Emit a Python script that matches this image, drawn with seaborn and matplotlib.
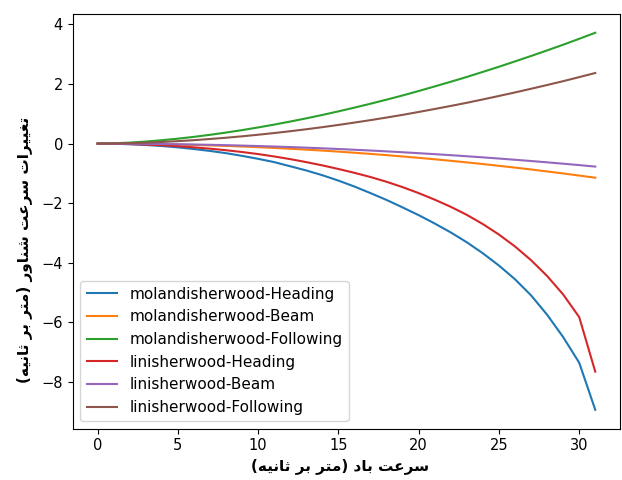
import numpy as np
import pandas as pd
import matplotlib
matplotlib.use('Agg')
import matplotlib.pyplot as plt
import seaborn as sns

# wind speed (m/s)
wind = list(range(0, 32))

mol_heading = [0, -0.005, -0.02, -0.045, -0.08, -0.125, -0.18, -0.245, -0.32, -0.41,
               -0.51, -0.62, -0.76, -0.90, -1.06, -1.24, -1.44, -1.66, -1.89, -2.14,
               -2.40, -2.68, -2.98, -3.31, -3.68, -4.09, -4.55, -5.09, -5.74, -6.49,
               -7.35, -8.93]
mol_beam = [0, -0.001, -0.005, -0.011, -0.019, -0.03, -0.043, -0.058, -0.076, -0.096,
            -0.119, -0.144, -0.171, -0.201, -0.233, -0.268, -0.305, -0.344, -0.386, -0.43,
            -0.476, -0.525, -0.576, -0.63, -0.685, -0.744, -0.804, -0.867, -0.933, -1.0,
            -1.071, -1.144]
mol_following = [0, 0.011, 0.035, 0.07, 0.115, 0.167, 0.228, 0.296, 0.372, 0.454,
                 0.544, 0.639, 0.742, 0.849, 0.963, 1.083, 1.209, 1.34, 1.476, 1.617,
                 1.766, 1.92, 2.077, 2.238, 2.408, 2.58, 2.759, 2.941, 3.128, 3.319,
                 3.518, 3.72]
lin_heading = [0, -0.004, -0.014, -0.031, -0.055, -0.086, -0.124, -0.169, -0.221, -0.281,
               -0.35, -0.43, -0.52, -0.62, -0.73, -0.85, -0.98, -1.12, -1.28, -1.46,
               -1.66, -1.88, -2.12, -2.39, -2.70, -3.05, -3.45, -3.91, -4.44, -5.06,
               -5.82, -7.65]
lin_beam = [0, -0.001, -0.003, -0.007, -0.013, -0.02, -0.029, -0.039, -0.051, -0.065,
            -0.08, -0.097, -0.115, -0.135, -0.157, -0.18, -0.205, -0.231, -0.259, -0.289,
            -0.32, -0.353, -0.387, -0.423, -0.461, -0.5, -0.541, -0.583, -0.627, -0.673,
            -0.72, -0.77]
lin_following = [0, 0.004, 0.016, 0.033, 0.056, 0.084, 0.117, 0.156, 0.198, 0.246,
                 0.299, 0.356, 0.417, 0.483, 0.553, 0.628, 0.707, 0.789, 0.876, 0.966,
                 1.063, 1.163, 1.265, 1.371, 1.484, 1.6, 1.718, 1.841, 1.967, 2.096,
                 2.232, 2.37]

series_names = ['molandisherwood-Heading', 'molandisherwood-Beam', 'molandisherwood-Following',
                'linisherwood-Heading', 'linisherwood-Beam', 'linisherwood-Following']
series_vals = [mol_heading, mol_beam, mol_following, lin_heading, lin_beam, lin_following]

xlabel_fa = 'سرعت باد (متر بر ثانیه)'
ylabel_fa = 'تغییرات سرعت شناور (متر بر ثانیه)'


# matplotlib has no arabic shaping, so do it by hand with presentation forms
FORMS = {
    'ا': ('\uFE8D', '\uFE8E', None, None),
    'ب': ('\uFE8F', '\uFE90', '\uFE91', '\uFE92'),
    'ت': ('\uFE95', '\uFE96', '\uFE97', '\uFE98'),
    'ث': ('\uFE99', '\uFE9A', '\uFE9B', '\uFE9C'),
    'د': ('\uFEA9', '\uFEAA', None, None),
    'ر': ('\uFEAD', '\uFEAE', None, None),
    'س': ('\uFEB1', '\uFEB2', '\uFEB3', '\uFEB4'),
    'ش': ('\uFEB5', '\uFEB6', '\uFEB7', '\uFEB8'),
    'ع': ('\uFEC9', '\uFECA', '\uFECB', '\uFECC'),
    'غ': ('\uFECD', '\uFECE', '\uFECF', '\uFED0'),
    'م': ('\uFEE1', '\uFEE2', '\uFEE3', '\uFEE4'),
    'ن': ('\uFEE5', '\uFEE6', '\uFEE7', '\uFEE8'),
    'ه': ('\uFEE9', '\uFEEA', '\uFEEB', '\uFEEC'),
    'و': ('\uFEED', '\uFEEE', None, None),
    'ی': ('\uFBFC', '\uFBFD', '\uFEF3', '\uFEF4'),
}


def shape_fa(text):
    out = []
    for i, ch in enumerate(text):
        if ch not in FORMS:
            out.append(ch)
            continue
        prev = text[i - 1] if i > 0 else ''
        nxt = text[i + 1] if i + 1 < len(text) else ''
        prev_joins = prev in FORMS and FORMS[prev][2] is not None
        next_joins = nxt in FORMS and FORMS[ch][2] is not None
        iso, fin, ini, med = FORMS[ch]
        if prev_joins and next_joins:
            out.append(med)
        elif prev_joins:
            out.append(fin)
        elif next_joins:
            out.append(ini)
        else:
            out.append(iso)
    vis = ''.join(reversed(out))
    return vis.translate(str.maketrans('()', ')('))


rows = []
for name, vals in zip(series_names, series_vals):
    for w, v in zip(wind, vals):
        rows.append((w, v, name))
df = pd.DataFrame(rows, columns=['wind', 'dv', 'model'])

fig = plt.figure(figsize=(6.22, 4.8), dpi=100)
ax = fig.add_axes([0.117, 0.107, 0.88, 0.864])
sns.lineplot(data=df, x='wind', y='dv', hue='model', palette='tab10', ax=ax, linewidth=1.5)
sns.move_legend(ax, 'lower left', title=None, fontsize=11)

ax.tick_params(labelsize=10.5)
ax.set_xlabel(shape_fa(xlabel_fa), fontsize=11, fontweight='bold', family='DejaVu Sans')
ax.set_ylabel(shape_fa(ylabel_fa), fontsize=11, fontweight='bold', family='DejaVu Sans')
ax.xaxis.set_label_coords(0.489, -0.072)
ax.yaxis.set_label_coords(-0.072, 0.43)

fig.savefig('out.png', dpi=100)
